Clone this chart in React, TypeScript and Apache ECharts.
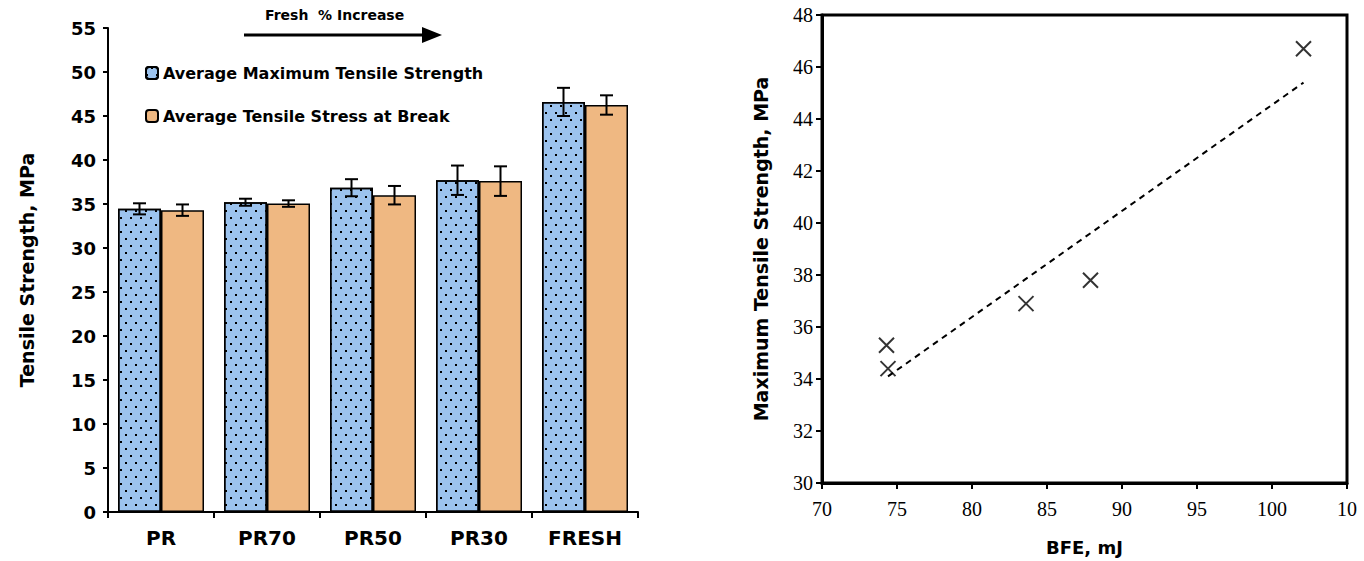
import React, { useEffect, useRef } from 'react';
import * as echarts from 'echarts';

const categories = ['PR', 'PR70', 'PR50', 'PR30', 'FRESH'];
const maxTensile = [34.45, 35.2, 36.85, 37.7, 46.6];
const maxTensileErr = [0.63, 0.4, 0.97, 1.67, 1.6];
const breakStress = [34.3, 35.05, 36.0, 37.6, 46.25];
const breakStressErr = [0.65, 0.37, 1.05, 1.68, 1.1];

const bfe = [74.3, 74.4, 83.6, 87.9, 102.1];
const maxStrength = [35.3, 34.4, 36.9, 37.8, 46.7];
const trendBfe = [74.4, 102.1];
const trendStrength = [34.1, 45.4];
const rightXTickLabels: Record<number, string> = { 70: '70', 75: '75', 80: '80', 85: '85', 90: '90', 95: '95', 100: '100', 105: '10' };

const SANS = '"DejaVu Sans", sans-serif';
const SERIF = '"Liberation Serif", "Times New Roman", serif';
const BAR_W = 43;

const errRender = (offset: number) => (params: any, api: any) => {
  const idx = api.value(0);
  const lo = api.coord([idx, api.value(1)]);
  const hi = api.coord([idx, api.value(2)]);
  const x = lo[0] + offset;
  const cap = 6.5;
  const style = { stroke: '#000', lineWidth: 2 };
  return {
    type: 'group',
    children: [
      { type: 'line', shape: { x1: x, y1: hi[1], x2: x, y2: lo[1] }, style },
      { type: 'line', shape: { x1: x - cap, y1: hi[1], x2: x + cap, y2: hi[1] }, style },
      { type: 'line', shape: { x1: x - cap, y1: lo[1], x2: x + cap, y2: lo[1] }, style },
    ],
  };
};

export default function App() {
  const ref = useRef<HTMLDivElement>(null);
  useEffect(() => {
    if (!ref.current) return;
    const chart = echarts.init(ref.current, undefined, { renderer: 'svg' });
    const dotDecal = {
      symbol: 'rect',
      symbolSize: 1,
      color: '#000',
      dashArrayX: [[2, 8], [0, 5, 2, 3]],
      dashArrayY: [2, 5],
    };
    const option: any = {
      animation: false,
      backgroundColor: '#fff',
      grid: [
        { left: 108, top: 28, width: 530, height: 484 },
        { left: 822, top: 15, width: 525, height: 468, show: true, borderColor: '#000', borderWidth: 3 },
      ],
      legend: {
        orient: 'vertical',
        left: 145,
        top: 65,
        itemWidth: 12,
        itemHeight: 12,
        itemGap: 27,
        padding: 0,
        textStyle: { fontFamily: SANS, fontWeight: 'bold', fontSize: 16, color: '#000' },
        data: ['Average Maximum Tensile Strength', 'Average Tensile Stress at Break'],
      },
      xAxis: [
        {
          type: 'category',
          gridIndex: 0,
          data: categories,
          axisLine: { lineStyle: { color: '#000', width: 2 } },
          axisTick: { show: true, length: 6, lineStyle: { color: '#000', width: 2 } },
          axisLabel: { fontFamily: SANS, fontWeight: 'bold', fontSize: 20, color: '#000', margin: 16 },
        },
        {
          type: 'value',
          gridIndex: 1,
          min: 70,
          max: 105,
          interval: 5,
          axisLine: { lineStyle: { color: '#000', width: 3 } },
          axisTick: { show: true, length: 6, lineStyle: { color: '#000', width: 2 } },
          axisLabel: {
            fontFamily: SERIF, fontSize: 20, color: '#000', margin: 16,
            formatter: (v: number) => rightXTickLabels[v] ?? String(v),
          },
          splitLine: { show: false },
          name: 'BFE, mJ',
          nameLocation: 'middle',
          nameGap: 55,
          nameTextStyle: { fontFamily: SANS, fontWeight: 'bold', fontSize: 18, color: '#000' },
        },
      ],
      yAxis: [
        {
          type: 'value',
          gridIndex: 0,
          min: 0,
          max: 55,
          interval: 5,
          axisLine: { show: true, lineStyle: { color: '#000', width: 2 } },
          axisTick: { show: true, length: 5, lineStyle: { color: '#000', width: 2 } },
          axisLabel: { fontFamily: SANS, fontWeight: 'bold', fontSize: 18, color: '#000', margin: 12 },
          splitLine: { show: false },
          name: 'Tensile Strength, MPa',
          nameLocation: 'middle',
          nameGap: 72,
          nameTextStyle: { fontFamily: SANS, fontWeight: 'bold', fontSize: 19, color: '#000' },
        },
        {
          type: 'value',
          gridIndex: 1,
          min: 30,
          max: 48,
          interval: 2,
          axisLine: { show: true, lineStyle: { color: '#000', width: 3 } },
          axisTick: { show: true, length: 6, lineStyle: { color: '#000', width: 2 } },
          axisLabel: { fontFamily: SERIF, fontSize: 20, color: '#000', margin: 9 },
          splitLine: { show: false },
          name: 'Maximum Tensile Strength, MPa',
          nameLocation: 'middle',
          nameGap: 52,
          nameTextStyle: { fontFamily: SANS, fontWeight: 'bold', fontSize: 19, color: '#000' },
        },
      ],
      series: [
        {
          name: 'Average Maximum Tensile Strength',
          type: 'bar',
          xAxisIndex: 0,
          yAxisIndex: 0,
          barWidth: BAR_W,
          barGap: '0%',
          data: maxTensile,
          itemStyle: { color: '#9CC3EE', borderColor: '#000', borderWidth: 1.5, decal: dotDecal },
        },
        {
          name: 'Average Tensile Stress at Break',
          type: 'bar',
          xAxisIndex: 0,
          yAxisIndex: 0,
          barWidth: BAR_W,
          barGap: '0%',
          data: breakStress,
          itemStyle: { color: '#EFB882', borderColor: '#000', borderWidth: 1.5 },
        },
        {
          type: 'custom',
          xAxisIndex: 0,
          yAxisIndex: 0,
          renderItem: errRender(-BAR_W / 2),
          encode: { x: 0, y: [1, 2] },
          data: maxTensile.map((v, i) => [i, v - maxTensileErr[i], v + maxTensileErr[i]]),
          z: 10,
        },
        {
          type: 'custom',
          xAxisIndex: 0,
          yAxisIndex: 0,
          renderItem: errRender(BAR_W / 2),
          encode: { x: 0, y: [1, 2] },
          data: breakStress.map((v, i) => [i, v - breakStressErr[i], v + breakStressErr[i]]),
          z: 10,
        },
        {
          type: 'line',
          xAxisIndex: 1,
          yAxisIndex: 1,
          data: trendBfe.map((x, i) => [x, trendStrength[i]]),
          symbol: 'none',
          lineStyle: { color: '#000', width: 2, type: [6, 5] },
        },
        {
          type: 'scatter',
          xAxisIndex: 1,
          yAxisIndex: 1,
          data: bfe.map((x, i) => [x, maxStrength[i]]),
          symbol: 'path://M0,0L10,10M10,0L0,10',
          symbolSize: 15,
          itemStyle: { color: 'none', borderColor: '#000', borderWidth: 2 },
        },
      ],
      graphic: [
        {
          type: 'text',
          left: 265,
          top: 8,
          style: { text: 'Fresh  % Increase', fontFamily: SANS, fontWeight: 'bold', fontSize: 14, fill: '#000' },
        },
        {
          type: 'line',
          shape: { x1: 244, y1: 35, x2: 424, y2: 35 },
          style: { stroke: '#000', lineWidth: 3 },
        },
        {
          type: 'polygon',
          shape: { points: [[422, 27], [442, 35], [422, 43]] },
          style: { fill: '#000' },
        },
      ],
    };
    chart.setOption(option);
    return () => chart.dispose();
  }, []);
  return <div ref={ref} style={{ position: 'fixed', left: 0, top: 0, width: 1364, height: 561, background: '#fff' }} />;
}
